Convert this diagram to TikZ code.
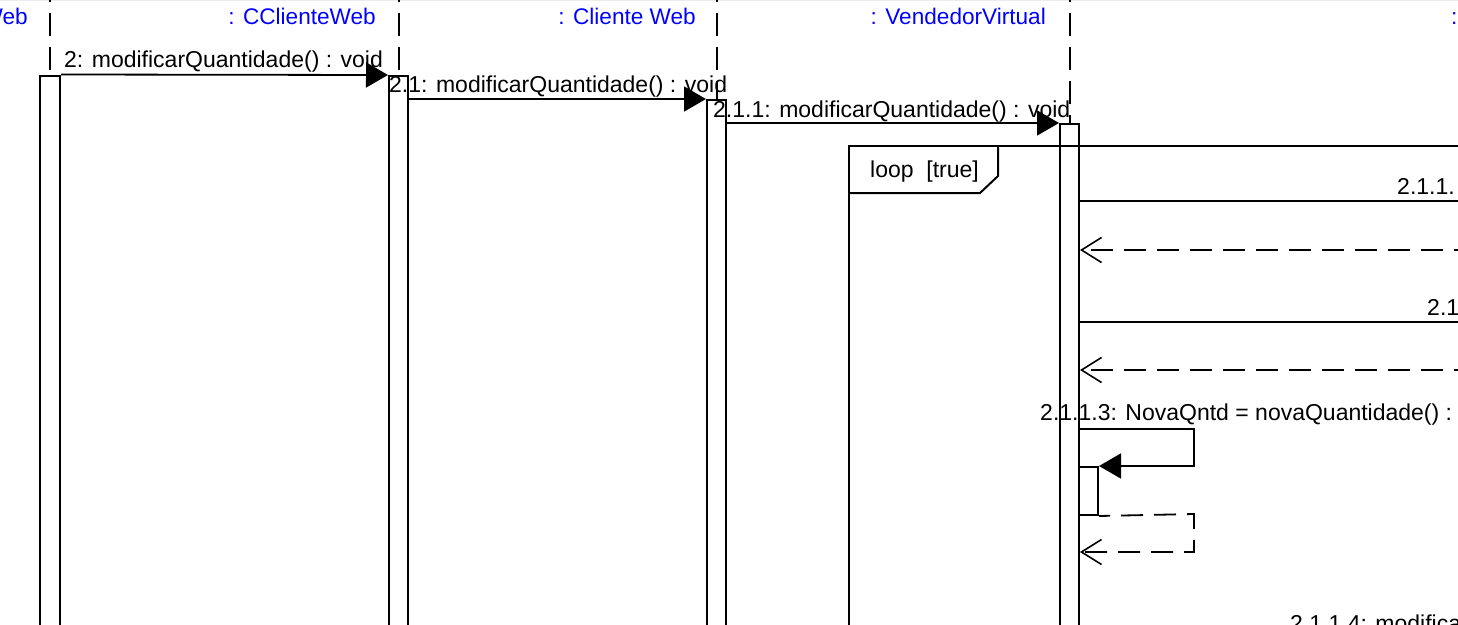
\documentclass[tikz,border=0pt]{standalone}
\usepackage{fontspec}
\setmainfont{Liberation Sans}
\usetikzlibrary{arrows.meta,positioning}
\tikzset{
  lifeline/.style={line width=2pt, dash pattern=on 23pt off 11pt},
  activation/.style={draw, line width=2pt, inner sep=0pt, minimum width=19pt, minimum height=620pt, anchor=north},
  call/.style={line width=1.8pt, -{Triangle[length=22pt, width=25pt]}},
  reply/.style={line width=1.8pt, dash pattern=on 22pt off 11pt, -{Straight Barb[length=20pt, width=25pt, line width=1.6pt]}},
  frame/.style={line width=2pt},
  msg/.style={font=\fontsize{23}{27}\selectfont, inner sep=0pt, anchor=base west},
  head/.style={font=\fontsize{22.6}{27}\selectfont, text=blue, inner sep=0pt, anchor=base east},
}

\begin{document}
\begin{tikzpicture}[x=1pt, y=-1pt]

  \useasboundingbox (0,0) rectangle (1458,624);
  \clip (0,0) rectangle (1458,624);

  % top edge of the page
  \draw[gray!15, line width=1.5pt] (0,0.5) -- (1458,0.5);

  % Lifeline heads (cut at the top)
  \node[head] (headWeb) at (28,24) {Web};
  \node[head] (headCCliente) at (376,24) {: CClienteWeb};
  \node[head] (headCliente) at (696,24) {: Cliente Web};
  \node[head] (headVendedor) at (1046,24) {: VendedorVirtual};
  \node[head, anchor=base west] (headRight) at (1451,24) {:};

  % Activations
  \node[activation, minimum width=20pt] (actWeb) at (50,74.5) {};
  \node[activation] (actCCliente) at (398.5,75) {};
  \node[activation] (actCliente) at (716.5,99) {};
  \node[activation] (actVendedor) at (1069.5,123) {};
  \node[activation, minimum height=48pt] (actSelf) at (1088.5,466) {};

  % Dashed lifelines above the activations
  \foreach \a in {actWeb, actCCliente, actCliente, actVendedor}
    \draw[lifeline] (\a.north |- 0,-21) -- (\a.north);

  % Calls down the chain
  \draw[call] (actWeb.north east) -- (actCCliente.north west);
  \node[msg] (m2) at (64,67) {2: modificarQuantidade() : void};
  \draw[call] (actCCliente.east |- actCliente.north) -- (actCliente.north west);
  \node[msg] (m21) at (389,92) {2.1: modificarQuantidade() : void};
  \draw[call] (actCliente.east |- actVendedor.north) -- (actVendedor.north west);
  \node[msg] (m211) at (713,117) {2.1.1: modificarQuantidade() : void};

  % Loop fragment
  \draw[frame] (849,660) |- (1480,146);
  \draw[frame] (849,193) -- (980,193) -- (998,176) -- (998,146);
  \node[msg] (loopLabel) at (870,177) {loop\ \ [true]};

  % Messages to the lifeline on the right
  \coordinate (out1) at (1520,201);
  \coordinate (back1) at (1476,250);
  \coordinate (out2) at (1520,322);
  \coordinate (back2) at (1476,370);
  \draw[call] (actVendedor.east |- out1) -- (out1);
  \node[msg] (m2111) at (1397,194) {2.1.1.};
  \draw[reply] (back1) -- (actVendedor.east |- back1);
  \draw[call] (actVendedor.east |- out2) -- (out2);
  \node[msg] (m2112) at (1427,315) {2.1};
  \draw[reply] (back2) -- (actVendedor.east |- back2);

  % Self call
  \node[msg] (m2113) at (1040,420) {2.1.1.3: NovaQntd = novaQuantidade() :};
  \draw[call] (actVendedor.east |- 0,429) -- (1194,429) |- (actSelf.north east);
  \draw[reply, dash phase=11pt] (actSelf.south east) -- (1194,514) |- (actVendedor.east |- 0,552);

  \node[msg] (m2114) at (1290,631) {2.1.1.4: modifica};

\end{tikzpicture}
\end{document}
